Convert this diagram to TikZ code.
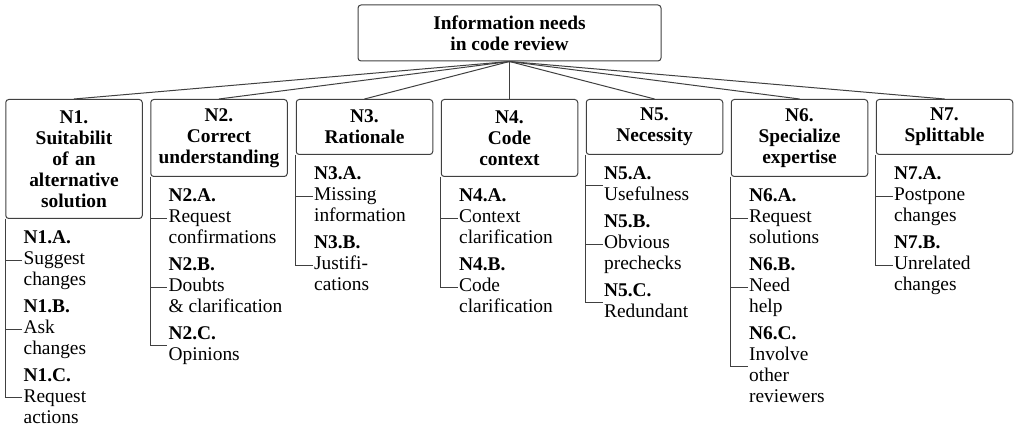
\documentclass[tikz,border=0pt]{standalone}
\usepackage{fontspec}
\setmainfont{Liberation Serif}[BoldFont={Liberation Serif Bold}]
\newcommand\tfont{\fontsize{9.7}{10.5}\selectfont}
\tikzset{
  rootbox/.style={draw=black!75, line width=0.5pt, rounded corners=1.5pt, align=center,
    font=\tfont\bfseries, minimum width=151.5pt, minimum height=28pt, inner sep=0pt},
  catbox/.style={draw=black!75, line width=0.5pt, rounded corners=1.5pt, align=center,
    font=\tfont\bfseries, minimum width=68.25pt, text width=66pt, inner xsep=0pt,
    inner ysep=0pt, anchor=north},
  leaf/.style={anchor=north west, align=left, font=\tfont, inner xsep=0.5pt, inner ysep=0pt},
  conn/.style={draw=black!75, line width=0.5pt},
  first/.style={xshift=8.5pt, yshift=-4.75pt},
  next/.style={yshift=-2.5pt}
}
\begin{document}
\begin{tikzpicture}[x=0.5pt, y=-0.5pt]
\useasboundingbox (0,0) rectangle (1016,426);
\node[rootbox] (root) at (509.5,33) {Information needs\\in code review};
\node[catbox, minimum height=59.5pt] (n1) at (74,99) {N1.\\Suitabilit\\of an\\alternative\\solution};
\node[catbox, minimum height=38.5pt] (n2) at (219,99) {N2.\\Correct\\understanding};
\node[catbox, minimum height=27.5pt] (n3) at (364.5,99) {N3.\\Rationale};
\node[catbox, minimum height=38.5pt] (n4) at (509.5,99) {N4.\\Code\\context};
\node[catbox, minimum height=27.5pt] (n5) at (654.5,99) {N5.\\Necessity};
\node[catbox, minimum height=38.5pt] (n6) at (799.5,99) {N6.\\Specialize\\expertise};
\node[catbox, minimum height=27.5pt] (n7) at (944.5,99) {N7.\\Splittable};
\foreach \c in {n1,n2,n3,n4,n5,n6,n7}{\draw[conn] (root.south) -- (\c.north);}
% N1
\node[leaf] (n1a) at ([first]n1.south west) {\strut\textbf{N1.A.}\\\strut Suggest\\\strut changes};
\node[leaf] (n1b) at ([next]n1a.south west) {\strut\textbf{N1.B.}\\\strut Ask\\\strut changes};
\node[leaf] (n1c) at ([next]n1b.south west) {\strut\textbf{N1.C.}\\\strut Request\\\strut actions};
% N2
\node[leaf] (n2a) at ([first]n2.south west) {\strut\textbf{N2.A.}\\\strut Request\\\strut confirmations};
\node[leaf] (n2b) at ([next]n2a.south west) {\strut\textbf{N2.B.}\\\strut Doubts\\\strut \& clarification};
\node[leaf] (n2c) at ([next]n2b.south west) {\strut\textbf{N2.C.}\\\strut Opinions};
% N3
\node[leaf] (n3a) at ([first]n3.south west) {\strut\textbf{N3.A.}\\\strut Missing\\\strut information};
\node[leaf] (n3b) at ([next]n3a.south west) {\strut\textbf{N3.B.}\\\strut Justifi-\\\strut cations};
% N4
\node[leaf] (n4a) at ([first]n4.south west) {\strut\textbf{N4.A.}\\\strut Context\\\strut clarification};
\node[leaf] (n4b) at ([next]n4a.south west) {\strut\textbf{N4.B.}\\\strut Code\\\strut clarification};
% N5
\node[leaf] (n5a) at ([first]n5.south west) {\strut\textbf{N5.A.}\\\strut Usefulness};
\node[leaf] (n5b) at ([next]n5a.south west) {\strut\textbf{N5.B.}\\\strut Obvious\\\strut prechecks};
\node[leaf] (n5c) at ([next]n5b.south west) {\strut\textbf{N5.C.}\\\strut Redundant};
% N6
\node[leaf] (n6a) at ([first]n6.south west) {\strut\textbf{N6.A.}\\\strut Request\\\strut solutions};
\node[leaf] (n6b) at ([next]n6a.south west) {\strut\textbf{N6.B.}\\\strut Need\\\strut help};
\node[leaf] (n6c) at ([next]n6b.south west) {\strut\textbf{N6.C.}\\\strut Involve\\\strut other\\\strut reviewers};
% N7
\node[leaf] (n7a) at ([first]n7.south west) {\strut\textbf{N7.A.}\\\strut Postpone\\\strut changes};
\node[leaf] (n7b) at ([next]n7a.south west) {\strut\textbf{N7.B.}\\\strut Unrelated\\\strut changes};
% folder connectors
\foreach \p/\c in {n1/n1a,n1/n1b,n1/n1c,n2/n2a,n2/n2b,n2/n2c,n3/n3a,n3/n3b,n4/n4a,n4/n4b,
  n5/n5a,n5/n5b,n5/n5c,n6/n6a,n6/n6b,n6/n6c,n7/n7a,n7/n7b}{
  \draw[conn] (\p.south west) |- (\c.west);
}
\end{tikzpicture}
\end{document}
